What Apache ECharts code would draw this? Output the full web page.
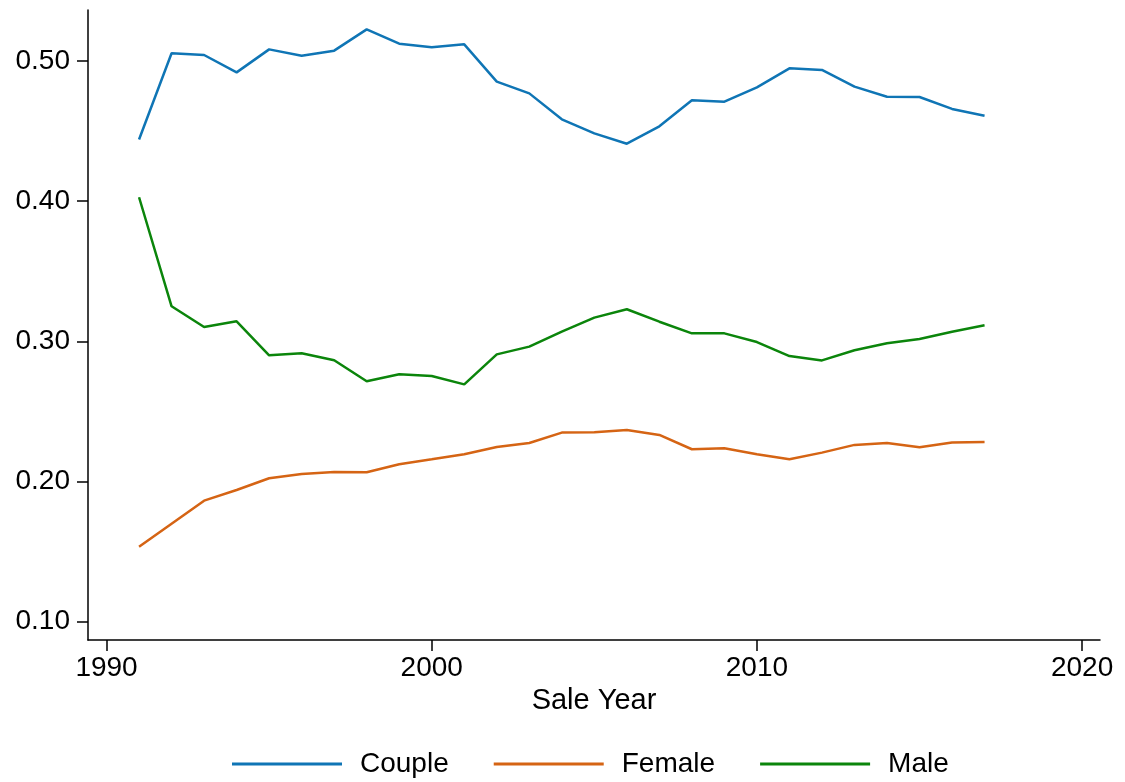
<!DOCTYPE html>
<html>
<head>
<meta charset="utf-8">
<script src="https://cdn.jsdelivr.net/npm/echarts@6/dist/echarts.min.js"></script>
<style>
  html, body { margin: 0; padding: 0; background: #fff; }
  #chart { width: 1125px; height: 782px; }
</style>
</head>
<body>
<div id="chart"></div>
<script>
// sale years and shares by buyer type
const years = [1991, 1992, 1993, 1994, 1995, 1996, 1997, 1998, 1999, 2000, 2001, 2002, 2003, 2004,
  2005, 2006, 2007, 2008, 2009, 2010, 2011, 2012, 2013, 2014, 2015, 2016, 2017];
const couple = [0.444, 0.5055, 0.5043, 0.4919, 0.5083, 0.5038, 0.5074, 0.5226, 0.5124, 0.5098, 0.5119,
  0.4853, 0.4769, 0.4584, 0.4484, 0.4410, 0.4534, 0.4720, 0.4710, 0.4812, 0.4948, 0.4936, 0.4817,
  0.4745, 0.4743, 0.4658, 0.4610];
const female = [0.1535, 0.1699, 0.1863, 0.1939, 0.2023, 0.2054, 0.2068, 0.2066, 0.2123, 0.2158, 0.2194,
  0.2246, 0.2275, 0.2349, 0.2351, 0.2367, 0.2332, 0.2230, 0.2237, 0.2194, 0.2158, 0.2206, 0.2261,
  0.2275, 0.2244, 0.2278, 0.2281];
const male = [0.4028, 0.3250, 0.3102, 0.3143, 0.2900, 0.2915, 0.2865, 0.2715, 0.2765, 0.2753, 0.2693,
  0.2907, 0.2962, 0.3069, 0.3169, 0.3229, 0.3140, 0.3057, 0.3057, 0.2995, 0.2895, 0.2864, 0.2936,
  0.2986, 0.3017, 0.3069, 0.3114];

const xTicks = [1990, 2000, 2010, 2020];
const yTicks = [0.10, 0.20, 0.30, 0.40, 0.50];

const font = 'Liberation Sans, Arial, Helvetica, sans-serif';

function pairs(vals) {
  return years.map((y, i) => [y, vals[i]]);
}

const chart = echarts.init(document.getElementById('chart'), null, { renderer: 'canvas' });

const axisLine = { show: true, lineStyle: { color: '#000', width: 1.5 } };

chart.setOption({
  animation: false,
  backgroundColor: '#fff',
  textStyle: { fontFamily: font },
  grid: { left: 88, right: 25, top: 10, bottom: 142, containLabel: false },
  xAxis: {
    type: 'value',
    min: 1989.43,
    max: 2020.55,
    name: 'Sale Year',
    nameLocation: 'middle',
    nameGap: 45,
    nameTextStyle: { fontSize: 29, color: '#000', fontFamily: font },
    axisLine: axisLine,
    axisTick: { show: true, length: 11, lineStyle: { color: '#000', width: 1.5 }, customValues: xTicks },
    axisLabel: {
      fontSize: 28, color: '#000', margin: 14, customValues: xTicks, fontFamily: font,
      formatter: v => String(v)
    },
    splitLine: { show: false }
  },
  yAxis: {
    type: 'value',
    min: 0.0869,
    max: 0.5364,
    axisLine: axisLine,
    axisTick: { show: true, length: 11, lineStyle: { color: '#000', width: 1.5 }, customValues: yTicks },
    axisLabel: {
      fontSize: 28, color: '#000', margin: 18, customValues: yTicks, fontFamily: font,
      formatter: v => v.toFixed(2)
    },
    splitLine: { show: false }
  },
  legend: {
    left: 232,
    top: 750,
    padding: 0,
    icon: 'rect',
    itemWidth: 110,
    itemHeight: 3,
    itemGap: 45,
    textStyle: { fontSize: 28, color: '#000', fontFamily: font, padding: [0, 0, 0, 13] },
    data: ['Couple', 'Female', 'Male']
  },
  series: [
    { name: 'Couple', type: 'line', data: pairs(couple), symbol: 'none', color: '#0f75b5',
      lineStyle: { width: 2.5, color: '#0f75b5' } },
    { name: 'Female', type: 'line', data: pairs(female), symbol: 'none', color: '#d56414',
      lineStyle: { width: 2.5, color: '#d56414' } },
    { name: 'Male', type: 'line', data: pairs(male), symbol: 'none', color: '#0b850b',
      lineStyle: { width: 2.5, color: '#0b850b' } }
  ]
});
</script>
</body>
</html>
